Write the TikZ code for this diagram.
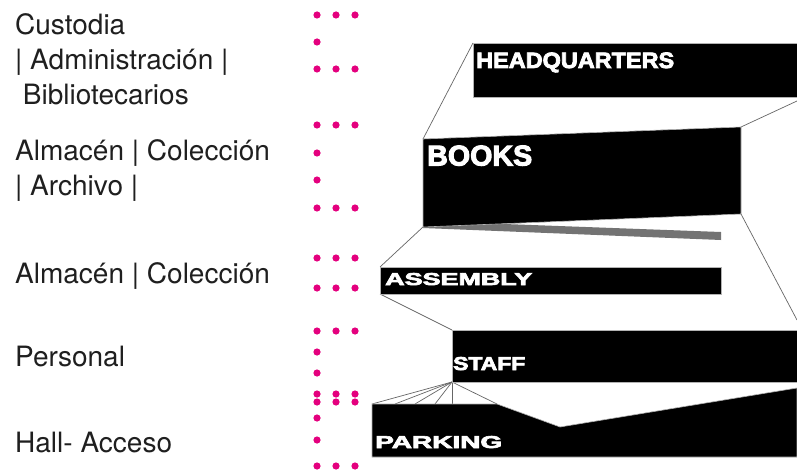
\documentclass[tikz,border=0pt]{standalone}
\usepackage{fontspec}
\setmainfont{TeX Gyre Heros}
\newfontfamily\blkfont[FakeBold=3.5]{Liberation Sans Bold}
\usepackage{graphicx}
\definecolor{dotpink}{RGB}{228,0,126}
\begin{document}
\begin{tikzpicture}[x=1pt,y=-1pt,
  side/.style={anchor=base west, inner sep=0pt, font=\fontsize{28}{33}\selectfont, text=black!88},
  tag/.style={anchor=base west, inner sep=0pt, text=white, font=\blkfont},
  block/.style={fill=black, draw=gray!60, line width=0.6pt},
  wedge/.style={fill=black!55, draw=none},
  link/.style={draw=black!60, line width=0.7pt},
  pdot/.style={fill=dotpink}]
\useasboundingbox (0,0) rectangle (797,473);
\fill[white] (0,0) rectangle (797,473);

% left labels
\node[side] (l1) at (15,35) {Custodia};
\node[side] (l2) at (15,70) {| Administración |};
\node[side] (l3) at (15,105) {\ Bibliotecarios};
\node[side] (l4) at (15,161) {Almacén | Colección};
\node[side] (l5) at (15,196) {| Archivo |};
\node[side] (l6) at (15,283) {Almacén | Colección};
\node[side] (l7) at (15,366) {Personal};
\node[side] (l8) at (15,452) {Hall- Acceso};

% magenta dots
\foreach \y in {15,69,125,208,258,288,331,394,402,466}
  \foreach \x in {317,336,355}
    \fill[pdot] (\x,\y) circle (3.6);
\foreach \y in {42,153,180,352,373,418,440}
  \fill[pdot] (317,\y) circle (3.6);

% corner coordinates
\coordinate (hq1) at (473,43);  \coordinate (hq2) at (797,43);
\coordinate (hq3) at (797,97);  \coordinate (hq4) at (473,97);
\coordinate (bk1) at (423,139); \coordinate (bk2) at (741,127);
\coordinate (bk3) at (741,214); \coordinate (bk4) at (423,227);
\coordinate (as1) at (380,267); \coordinate (as2) at (721,267);
\coordinate (as3) at (721,294); \coordinate (as4) at (380,294);
\coordinate (st1) at (452,330); \coordinate (st2) at (797,330);
\coordinate (st3) at (797,382); \coordinate (st4) at (452,382);
\coordinate (pk1) at (372,404); \coordinate (pk2) at (497,404);
\coordinate (pk3) at (560,427); \coordinate (pk4) at (797,388);
\coordinate (pk5) at (797,457); \coordinate (pk6) at (372,457);
\coordinate (eR1) at (797,101); \coordinate (eR2) at (797,320);
\coordinate (f2) at (395,404); \coordinate (f3) at (415,404);
\coordinate (f4) at (435,404); \coordinate (f5) at (452,404);

% connectors
\draw[link] (hq1) -- (bk1);
\draw[link] (bk2) -- (eR1);
\draw[link] (bk3) -- (eR2);
\draw[link] (bk4) -- (as1);
\draw[link] (as4) -- (st1);
\foreach \e in {pk1,f2,f3,f4,f5,pk2}
  \draw[link] (st4) -- (\e);

% blocks
\fill[wedge] (423,221) -- (721,232) -- (721,240) -- (423,228) -- cycle;
\path[block] (hq1) -- (hq2) -- (hq3) -- (hq4) -- cycle;
\path[block] (bk1) -- (bk2) -- (bk3) -- (bk4) -- cycle;
\path[block] (as1) -- (as2) -- (as3) -- (as4) -- cycle;
\path[block] (st1) -- (st2) -- (st3) -- (st4) -- cycle;
\path[block] (pk1) -- (pk2) -- (pk3) -- (pk4) -- (pk5) -- (pk6) -- cycle;

% block labels
\node[tag] (tHQ) at (476,68) {\resizebox{198pt}{15.5pt}{HEADQUARTERS}};
\node[tag] (tBK) at (427,165.5) {\resizebox{105pt}{20pt}{BOOKS}};
\node[tag] (tAS) at (385,285) {\resizebox{147pt}{12pt}{ASSEMBLY}};
\node[tag] (tST) at (453,370) {\resizebox{72pt}{13pt}{STAFF}};
\node[tag] (tPK) at (375,448) {\resizebox{127pt}{12pt}{PARKING}};
\end{tikzpicture}
\end{document}
